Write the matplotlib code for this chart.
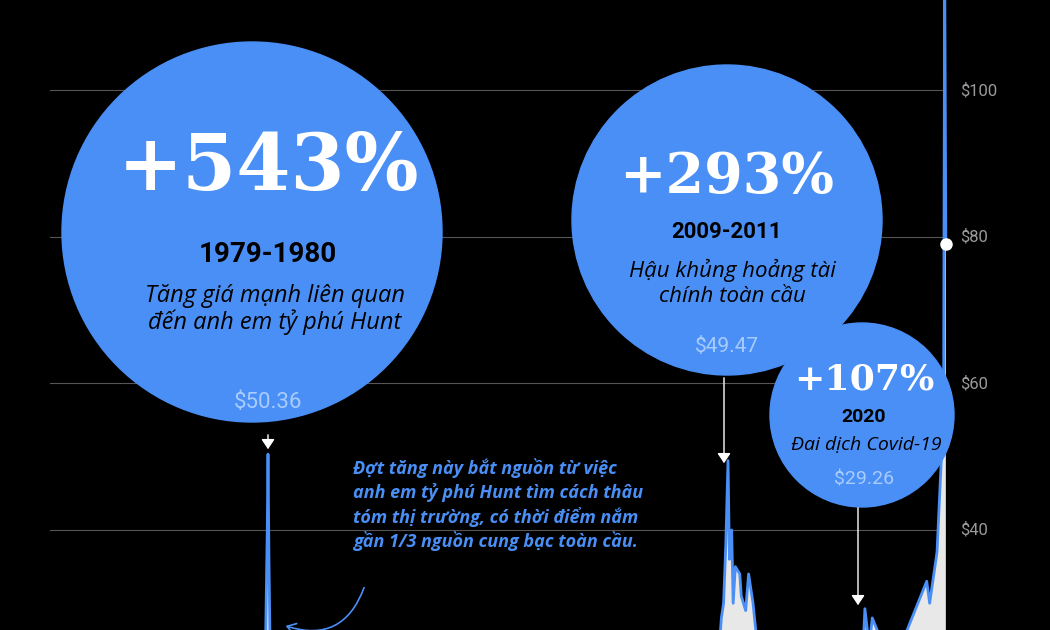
import matplotlib
matplotlib.use("Agg")
import matplotlib.pyplot as plt
from matplotlib.patches import Circle, FancyArrowPatch

years = [1975, 1978, 1979.0, 1979.5, 1979.85, 1980.0, 1980.05, 1980.12, 1980.25, 1980.5, 1981, 1985, 1990, 2000,
         2005, 2006.3, 2008, 2008.8, 2009.5, 2010, 2010.5, 2010.85, 2011.0, 2011.15, 2011.3, 2011.4, 2011.55,
         2011.65, 2011.8, 2012.1, 2012.2, 2012.5, 2012.7, 2013.0, 2013.3, 2014, 2016, 2019.5, 2020.2, 2020.6,
         2020.9, 2021.1, 2021.5, 2022, 2023, 2024.4, 2024.8, 2025.0, 2025.5, 2025.8, 2025.95, 2026.02, 2026.1]
prices = [4.4, 5.4, 6, 9, 20, 40, 50.36, 35, 15, 16, 11, 6, 5, 5,
          7, 14, 17, 10, 13, 17, 18, 28, 30, 38, 49.47, 36, 40,
          30, 35, 34, 31, 29, 34, 30, 24, 20, 17, 17, 12, 29.26,
          24, 28, 26, 22, 24, 31, 33, 30, 37, 50, 60, 118, 79]
ticks = [40, 60, 80, 100]

fig = plt.figure(figsize=(10.5, 6.3), dpi=100, facecolor="black")
ax = fig.add_axes([0, 0, 1, 1], facecolor="black")
pxy = 14.72
x0 = 1980.05 - 268 / pxy
x1 = x0 + 1050 / pxy
ax.set_xlim(x0, x1)
ax.set_ylim((823 - 630) / 7.325, 823 / 7.325)
ax.axis("off")
for t in ticks:
    ax.plot([x0 + 50 / pxy, x0 + 945 / pxy], [t, t], color="#555555", lw=0.8, zorder=1)
    ax.text(x0 + 960 / pxy, t, f"${t}", color="#9a9a9a", fontsize=12, va="center",
            family="Roboto", fontstretch="condensed")
ax.fill_between(years, 0, prices, color="#e8e8e8", zorder=2, lw=0)
ax.plot(years, prices, color="#4a8ff5", lw=2, zorder=3)
ax.plot([years[-1]], [prices[-1]], "o", color="white", ms=8, zorder=4)

o = fig.add_axes([0, 0, 1, 1], facecolor="none")
o.set_xlim(0, 1050); o.set_ylim(630, 0); o.axis("off")
blue = "#4a8ff5"
for cx, cy, r in [(252, 232, 190), (727, 220, 155), (862, 415, 92)]:
    o.add_patch(Circle((cx, cy), r, color=blue, zorder=5))

def t(x, y, s, size, **kw):
    o.text(x, y, s, fontsize=size, ha="center", va="center", zorder=6, **kw)

t(268, 168, "+543%", 56, color="white", family="DejaVu Serif", weight="bold")
t(268, 255, "1979-1980", 20, color="black", weight="bold", family="Roboto")
t(275, 296, "Tăng giá mạnh liên quan", 17, color="black", style="italic", family="Open Sans")
t(275, 322, "đến anh em tỷ phú Hunt", 17, color="black", style="italic", family="Open Sans")
t(268, 402, "$50.36", 16, color="#a9ccff", family="Roboto", fontstretch="condensed")
t(727, 178, "+293%", 40, color="white", family="DejaVu Serif", weight="bold")
t(727, 232, "2009-2011", 16, color="black", weight="bold", family="Roboto")
t(732, 270, "Hậu khủng hoảng tài", 16, color="black", style="italic", family="Open Sans")
t(732, 297, "chính toàn cầu", 16, color="black", style="italic", family="Open Sans")
t(727, 346, "$49.47", 15, color="#a9ccff", family="Roboto")
t(864, 380, "+107%", 26, color="white", family="DejaVu Serif", weight="bold")
t(864, 417, "2020", 14, color="black", weight="bold", family="Roboto")
t(866, 445, "Đai dịch Covid-19", 14, color="black", style="italic", family="Open Sans")
t(864, 480, "$29.26", 14, color="#a9ccff", family="Roboto")

for i, line in enumerate(["Đợt tăng này bắt nguồn từ việc", "anh em tỷ phú Hunt tìm cách thâu",
                          "tóm thị trường, có thời điểm nắm", "gần 1/3 nguồn cung bạc toàn cầu."]):
    o.text(353, 468 + i * 24.5, line, fontsize=13, color=blue, weight="bold", style="italic",
           family="Open Sans", va="center", zorder=6)

for xa, ya, yb in [(268, 432, 452), (724, 375, 466), (858, 505, 608)]:
    o.add_patch(FancyArrowPatch((xa, ya), (xa, yb), arrowstyle="-|>,head_length=6,head_width=4",
                                color="white", lw=1, zorder=6))
o.add_patch(FancyArrowPatch((365, 585), (283, 625), connectionstyle="arc3,rad=-0.5",
                            arrowstyle="->,head_length=6,head_width=4", color=blue, lw=1.2, zorder=6))
fig.savefig("out.png", dpi=100, facecolor="black")
